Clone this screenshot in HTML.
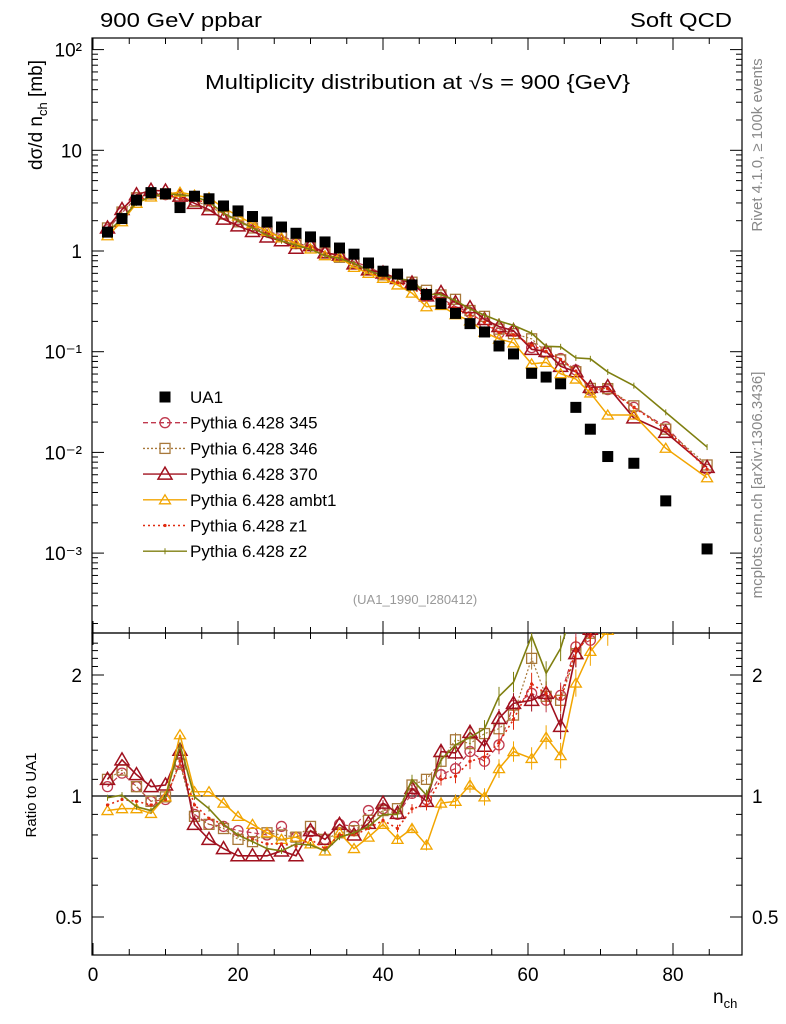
<!DOCTYPE html>
<html><head><meta charset="utf-8"><style>
body{margin:0;background:#fff}
svg{display:block;font-family:"Liberation Sans",sans-serif}
</style></head><body>
<svg id="chart" width="786" height="1024" viewBox="0 0 786 1024">
<text x="100" y="27" font-size="20" textLength="162" lengthAdjust="spacingAndGlyphs">900 GeV ppbar</text>
<text x="630" y="27" font-size="20" textLength="102" lengthAdjust="spacingAndGlyphs">Soft QCD</text>
<text x="205" y="89" font-size="20" textLength="425" lengthAdjust="spacingAndGlyphs">Multiplicity distribution at √s = 900 {GeV}</text>
<text transform="translate(762,145) rotate(-90)" font-size="15" fill="#888" text-anchor="middle">Rivet 4.1.0, ≥ 100k events</text>
<text transform="translate(762,485) rotate(-90)" font-size="15" fill="#888" text-anchor="middle">mcplots.cern.ch [arXiv:1306.3436]</text>
<text x="415" y="604" font-size="13" fill="#999" text-anchor="middle">(UA1_1990_I280412)</text>
<text transform="translate(42,115) rotate(-90)" font-size="19" text-anchor="middle">dσ/d n<tspan font-size="13" dy="5">ch</tspan><tspan dy="-5"> [mb]</tspan></text>
<text transform="translate(36,795) rotate(-90)" font-size="15" text-anchor="middle">Ratio to UA1</text>
<text x="713" y="1003" font-size="19">n<tspan font-size="13" dy="5">ch</tspan></text>
<g id="layer"></g>
</svg>
<script>
const nch=[2,4,6,8,10,12,14,16,18,20,22,24,26,28,30,32,34,36,38,40,42,44,46,48,50,52,54,56,58,60.5,62.5,64.5,66.6,68.6,71,74.6,79,84.7];
const ua1=[1.54,2.1,3.2,3.8,3.7,2.7,3.5,3.3,2.8,2.5,2.2,1.94,1.73,1.5,1.38,1.23,1.07,0.93,0.76,0.63,0.59,0.46,0.37,0.30,0.24,0.19,0.157,0.114,0.095,0.061,0.056,0.048,0.028,0.017,0.0091,0.0078,0.0033,0.0011];
const r345=[1.055,1.14,1.055,0.97,0.98,1.21,0.90,0.85,0.84,0.82,0.81,0.80,0.84,0.79,0.815,0.78,0.85,0.84,0.92,0.93,0.90,1.015,0.98,1.13,1.17,1.29,1.22,1.34,1.68,1.80,1.73,1.78,2.35,2.44];
const r346=[1.10,1.16,1.055,0.97,0.995,1.20,0.89,0.85,0.83,0.78,0.77,0.81,0.80,0.79,0.84,0.78,0.81,0.82,0.87,0.92,0.93,1.065,1.10,1.22,1.38,1.35,1.43,1.47,1.59,2.2,1.77,1.73,2.26,2.54];
const r370=[1.10,1.23,1.13,1.055,1.065,1.30,0.85,0.78,0.74,0.71,0.71,0.71,0.73,0.71,0.82,0.78,0.85,0.80,0.855,0.96,0.905,1.045,0.97,1.29,1.28,1.44,1.33,1.56,1.70,1.73,1.80,1.49,2.26,2.6];
const rambt1=[0.92,0.93,0.93,0.905,0.995,1.42,1.025,1.025,0.96,0.89,0.85,0.81,0.78,0.79,0.76,0.73,0.81,0.74,0.79,0.85,0.78,0.83,0.755,0.96,0.97,1.065,0.995,1.17,1.29,1.24,1.40,1.26,1.91,2.29];
const rz1=[0.95,0.98,0.97,0.95,0.98,1.22,0.95,0.88,0.85,0.80,0.78,0.76,0.76,0.75,0.78,0.74,0.80,0.80,0.83,0.87,0.83,0.93,0.95,1.10,1.12,1.22,1.25,1.36,1.55,1.90,1.80,1.75,2.3,2.5];
const rz2=[0.99,1.005,0.94,0.92,0.995,1.34,0.995,0.93,0.85,0.80,0.77,0.74,0.73,0.76,0.755,0.73,0.79,0.81,0.84,0.90,0.90,1.10,1.005,1.23,1.34,1.40,1.47,1.77,1.92,2.5,2.02,2.33,3.1,5.0];
const tail345=[0.042,0.028,0.018,0.0068];
const tail346=[0.043,0.029,0.017,0.0075];
const tail370=[0.045,0.022,0.0158,0.0071];
const tailambt1=[0.0235,0.0235,0.011,0.0056];
const tailz1=[0.043,0.028,0.017,0.0068];
const tailz2=[0.063,0.046,0.025,0.0113];
const xTicks=[0,20,40,60,80];
const yMainTicks=[100,10,1,0.1,0.01,0.001];
const yMainLabels=["10²","10","1","10⁻¹","10⁻²","10⁻³"];
const yRatioTicks=[2,1,0.5];

const NS="http://www.w3.org/2000/svg";
const L=document.getElementById('layer');
const X0=92,X1=742,MT=38,MB=633,RB=955;
const xs=n=>93+n*7.25;
const ym=v=>251-Math.log10(v)*100.7;
const yr=r=>796-Math.log2(r)*121;
function mk(t,a,p){const e=document.createElementNS(NS,t);for(const k in a)e.setAttribute(k,a[k]);(p||L).appendChild(e);return e;}

const defs=mk('defs',{});
const c1=mk('clipPath',{id:'cm'},defs);mk('rect',{x:X0,y:MT,width:X1-X0,height:MB-MT},c1);
const c2=mk('clipPath',{id:'cr'},defs);mk('rect',{x:X0,y:MB,width:X1-X0,height:RB-MB},c2);

const f1=mk('rect',{x:X0,y:MT,width:X1-X0,height:MB-MT,fill:'none',stroke:'#000','stroke-width':1.2});


const f2=mk('rect',{x:X0,y:MB,width:X1-X0,height:RB-MB,fill:'none',stroke:'#000','stroke-width':1.2});



for(let n=0;n<=85;n+=5){
  const big=n%20===0, h=big?12:6, x=xs(n);
  [[MT,1],[MB,-1],[MB,1],[RB,-1]].forEach(([y,d])=>mk('line',{x1:x,x2:x,y1:y,y2:y+d*h,stroke:'#000'}));
}
xTicks.forEach(n=>{const t=mk('text',{x:xs(n),y:981,'font-size':19,'text-anchor':'middle'});t.textContent=n;

});
for(let e=-4;e<=2;e++)for(let m=1;m<10;m++){const v=m*Math.pow(10,e),y=ym(v);if(y<MT||y>MB)continue;const h=m===1?12:6;
mk('line',{x1:X0,x2:X0+h,y1:y,y2:y,stroke:'#000'});mk('line',{x1:X1,x2:X1-h,y1:y,y2:y,stroke:'#000'});}
yMainTicks.forEach((v,i)=>{const t=mk('text',{x:82,y:ym(v)+7,'font-size':19,'text-anchor':'end'});t.textContent=yMainLabels[i];

});
for(let r=0.4;r<=2.5;r+=0.1){const y=yr(r);if(y<MB||y>RB)continue;const big=[0.5,1,2].some(v=>Math.abs(v-r)<1e-6);const h=big?12:6;
mk('line',{x1:X0,x2:X0+h,y1:y,y2:y,stroke:'#000'});mk('line',{x1:X1,x2:X1-h,y1:y,y2:y,stroke:'#000'});}
yRatioTicks.forEach(r=>{[[82,'end'],[752,'start']].forEach(([x,a])=>{const t=mk('text',{x:x,y:yr(r)+7,'font-size':19,'text-anchor':a});t.textContent=r;

});});
mk('line',{x1:X0,x2:X1,y1:yr(1),y2:yr(1),stroke:'#000','stroke-width':1.3});

function marker(g,type,x,y,col){
  if(type==='sq')mk('rect',{x:x-5.5,y:y-5.5,width:11,height:11,fill:'#000'},g);
  else if(type==='circ')mk('circle',{cx:x,cy:y,r:5,fill:'none',stroke:col,'stroke-width':1.3},g);
  else if(type==='osq')mk('rect',{x:x-5,y:y-5,width:10,height:10,fill:'none',stroke:col,'stroke-width':1.3},g);
  else if(type==='tri')mk('path',{d:`M${x} ${y-7}L${x+7} ${y+5}L${x-7} ${y+5}Z`,fill:'none',stroke:col,'stroke-width':1.5},g);
  else if(type==='stri')mk('path',{d:`M${x} ${y-5}L${x+5.5} ${y+4}L${x-5.5} ${y+4}Z`,fill:'none',stroke:col,'stroke-width':1.3},g);
  else if(type==='dot')mk('circle',{cx:x,cy:y,r:1.6,fill:col},g);
  else if(type==='bar'){mk('line',{x1:x,x2:x,y1:y-3,y2:y+3,stroke:col},g);}
}
const series=[
 ['345',r345,tail345,'#c0394e','5,3','circ',1.2],
 ['346',r346,tail346,'#a8783a','2,2','osq',1.2],
 ['370',r370,tail370,'#a0101e','','tri',1.6],
 ['ambt1',rambt1,tailambt1,'#f2a500','','stri',1.5],
 ['z1',rz1,tailz1,'#e02a10','2,3','dot',1.6],
 ['z2',rz2,tailz2,'#7f7f10','','bar',1.6]
];
series.forEach(([nm,rat,tail,col,dash,mt,sw])=>{
  const main=nch.map((n,i)=>i<rat.length?ua1[i]*rat[i]:tail[i-rat.length]);
  const ratio=nch.map((n,i)=>i<rat.length?rat[i]:tail[i-rat.length]/ua1[i]);
  const gm=mk('g',{'clip-path':'url(#cm)'});
  
  
  mk('polyline',{points:nch.map((n,i)=>xs(n)+','+ym(main[i])).join(' '),fill:'none',stroke:col,'stroke-width':sw,'stroke-dasharray':dash},gm);
  nch.forEach((n,i)=>marker(gm,mt,xs(n),ym(main[i]),col));
  const gr=mk('g',{'clip-path':'url(#cr)'});
  
  
  mk('polyline',{points:nch.map((n,i)=>xs(n)+','+yr(ratio[i])).join(' '),fill:'none',stroke:col,'stroke-width':sw,'stroke-dasharray':dash},gr);
  nch.forEach((n,i)=>{const x=xs(n),y=yr(ratio[i]);if(n>=40){const e=3+(n-40)*0.4;mk('line',{x1:x,x2:x,y1:y-e,y2:y+e,stroke:col},gr);}marker(gr,mt,x,y,col);});
});
const gu=mk('g',{'clip-path':'url(#cm)'});


nch.forEach((n,i)=>marker(gu,'sq',xs(n),ym(ua1[i]),'#000'));

const leg=[['UA1','sq','#000',''],['Pythia 6.428 345','circ','#c0394e','5,3'],['Pythia 6.428 346','osq','#a8783a','2,2'],['Pythia 6.428 370','tri','#a0101e',''],['Pythia 6.428 ambt1','stri','#f2a500',''],['Pythia 6.428 z1','dot','#e02a10','2,3'],['Pythia 6.428 z2','bar','#7f7f10','']];
leg.forEach(([t,m,c,d],i)=>{const y=397+i*25.7;const g=mk('g',{});


if(i>0)mk('line',{x1:143,x2:187,y1:y,y2:y,stroke:c,'stroke-width':1.4,'stroke-dasharray':d},g);
marker(g,m,165,y,c);const tx=mk('text',{x:190,y:y+6,'font-size':17},g);tx.textContent=t;});
</script>
</body></html>
